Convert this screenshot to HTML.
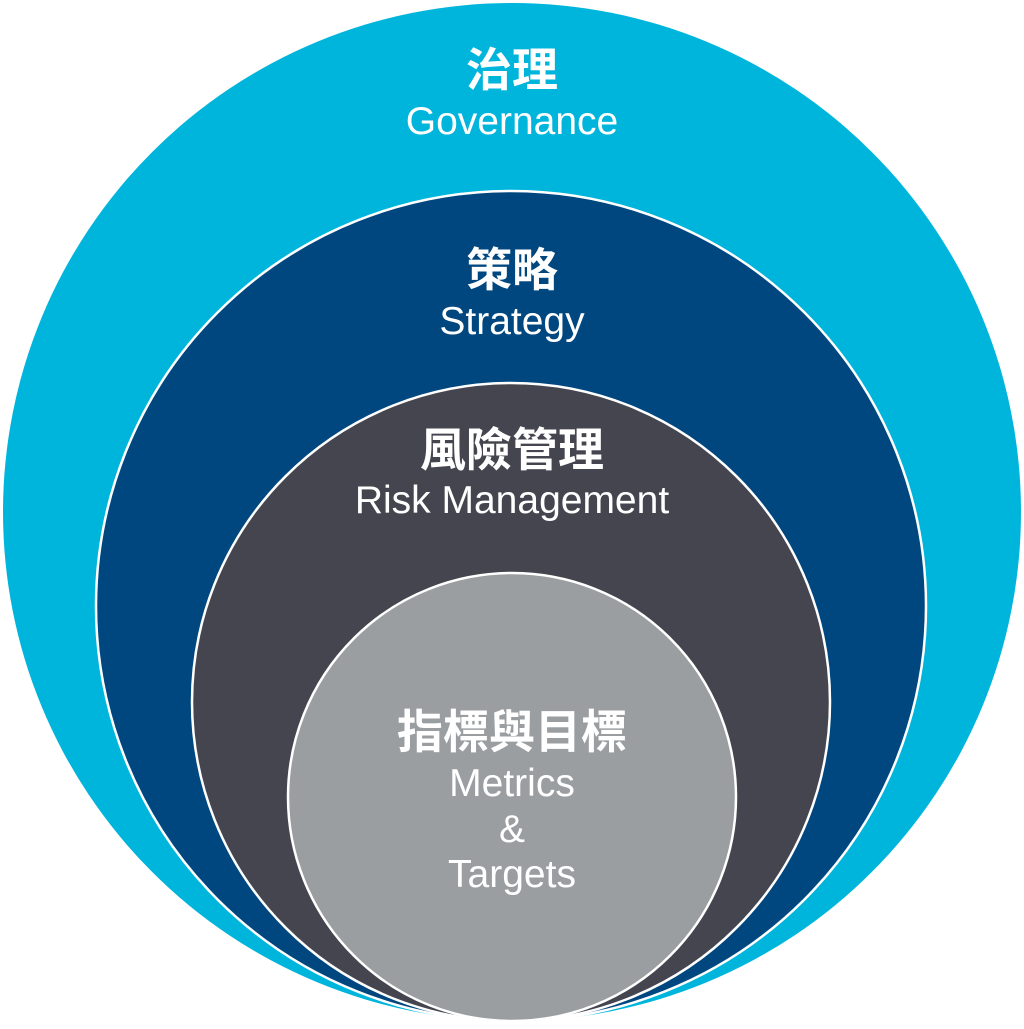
<!DOCTYPE html>
<html><head><meta charset="utf-8"><style>
html,body{margin:0;padding:0;background:#fff;}
svg text{font-family:"Liberation Sans","Noto Sans CJK TC",sans-serif;fill:#fff;text-anchor:middle;}
.zh{font-weight:bold;font-size:46px;}
.en{font-size:39px;}
</style></head><body>
<svg width="1024" height="1024" viewBox="0 0 1024 1024">
<circle cx="512" cy="512" r="509" fill="#00b5dc"/>
<circle cx="511" cy="606" r="415" fill="#00477f" stroke="#fff" stroke-width="2.5"/>
<circle cx="511" cy="702" r="319" fill="#45454f" stroke="#fff" stroke-width="2.5"/>
<circle cx="512" cy="797" r="224" fill="#9a9ea1" stroke="#fff" stroke-width="2.5"/>
<text class="zh" x="512" y="86">治理</text>
<text class="en" x="512" y="134">Governance</text>
<text class="zh" x="512" y="286">策略</text>
<text class="en" x="512" y="334">Strategy</text>
<text class="zh" x="512" y="466">風險管理</text>
<text class="en" x="512" y="513">Risk Management</text>
<text class="zh" x="512" y="748">指標與目標</text>
<text class="en" x="512" y="796">Metrics</text>
<text class="en" x="512" y="842">&amp;</text>
<text class="en" x="512" y="887">Targets</text>
</svg>
</body></html>
